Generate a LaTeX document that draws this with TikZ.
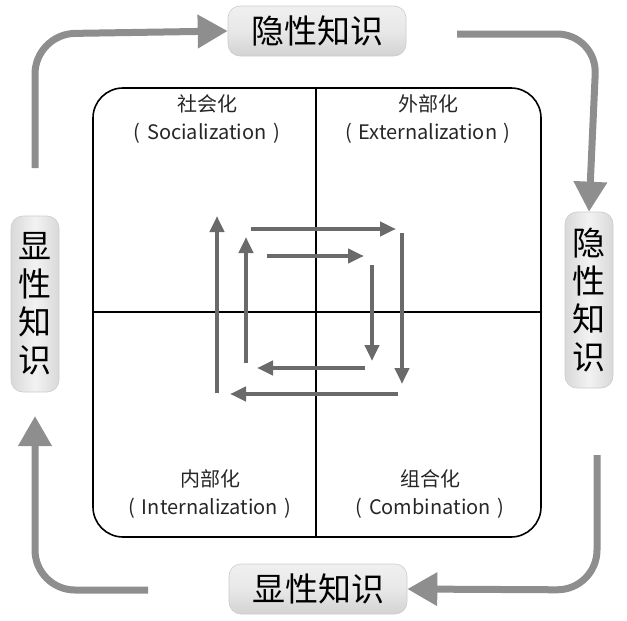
\documentclass[tikz,border=0pt]{standalone}
\usepackage{fontspec}
\setmainfont{Noto Sans CJK SC}
\usetikzlibrary{arrows.meta}
\definecolor{outerg}{HTML}{8E8E8E}
\definecolor{innerg}{HTML}{6A6A6A}
\tikzset{
  kbox/.style={draw=gray!40, line width=0.6pt, rounded corners=12pt, inner sep=0pt, font=\fontsize{33}{38}\selectfont},
  hbox/.style={kbox, minimum width=178pt, minimum height=50pt, top color=gray!12, bottom color=gray!35, middle color=gray!18},
  vbox/.style={kbox, minimum width=48pt, minimum height=176pt, left color=gray!30, right color=gray!30, middle color=gray!10, align=center},
  outarrow/.style={outerg, line width=7pt, -{Triangle[width=32pt,length=30pt]}},
  inarrow/.style={innerg, line width=4pt, -{Triangle[width=14pt,length=16pt]}},
  qlab/.style={align=center, font=\fontsize{20}{28}\selectfont, text=black!85},
}
\begin{document}
\begin{tikzpicture}[x=1pt,y=-1pt]
\useasboundingbox (0,0) rectangle (627,621);
% nodes
\node[hbox] (top) at (317,31) {隐性知识};
\node[hbox] (bot) at (318,589) {显性知识};
\node[vbox] (left) at (35,304) {显\\性\\知\\识};
\node[vbox] (right) at (589,300) {隐\\性\\知\\识};
% outer connectors
\coordinate (tl0) at (35,168);
\coordinate (tr0) at (457,34);
\coordinate (br0) at (597,455);
\coordinate (bl0) at (148,590);
\draw[outarrow, rounded corners=40pt] (tl0) -- (35,34) -- (top.west);
\draw[outarrow, rounded corners=40pt] (tr0) -- (597,34) -- (right.north);
\draw[outarrow, rounded corners=40pt] (br0) -- (597,590) -- (bot.east);
\draw[outarrow, rounded corners=40pt] (bl0) -- (35,590) -- (35,416);
% inner box
\draw[line width=1.6pt, rounded corners=30pt] (93,88) rectangle (541,537);
\coordinate (vt) at (316,88);
\coordinate (vb) at (316,537);
\coordinate (hl) at (93,312);
\coordinate (hr) at (541,312);
\draw[line width=1.6pt] (vt) -- (vb);
\draw[line width=1.6pt] (hl) -- (hr);
% quadrant labels
\node[qlab] (q1) at (207,119) {社会化\\(\,\,Socialization\,\,)};
\node[qlab] (q2) at (428,119) {外部化\\(\,\,Externalization\,\,)};
\node[qlab] (q3) at (210,494) {内部化\\(\,\,Internalization\,\,)};
\node[qlab] (q4) at (430,494) {组合化\\(\,\,Combination\,\,)};
% inner arrows
\coordinate (a1s) at (217,393); \coordinate (a1e) at (217,216);
\coordinate (a2s) at (246,363); \coordinate (a2e) at (246,237);
\coordinate (a3s) at (251,229); \coordinate (a3e) at (396,229);
\coordinate (a4s) at (267,256); \coordinate (a4e) at (364,256);
\coordinate (a5s) at (402,233); \coordinate (a5e) at (402,384);
\coordinate (a6s) at (372,265); \coordinate (a6e) at (372,361);
\coordinate (a7s) at (365,368); \coordinate (a7e) at (257,368);
\coordinate (a8s) at (398,394); \coordinate (a8e) at (230,394);
\draw[inarrow] (a1s) -- (a1e);
\draw[inarrow] (a2s) -- (a2e);
\draw[inarrow] (a3s) -- (a3e);
\draw[inarrow] (a4s) -- (a4e);
\draw[inarrow] (a5s) -- (a5e);
\draw[inarrow] (a6s) -- (a6e);
\draw[inarrow] (a7s) -- (a7e);
\draw[inarrow] (a8s) -- (a8e);
\end{tikzpicture}
\end{document}
